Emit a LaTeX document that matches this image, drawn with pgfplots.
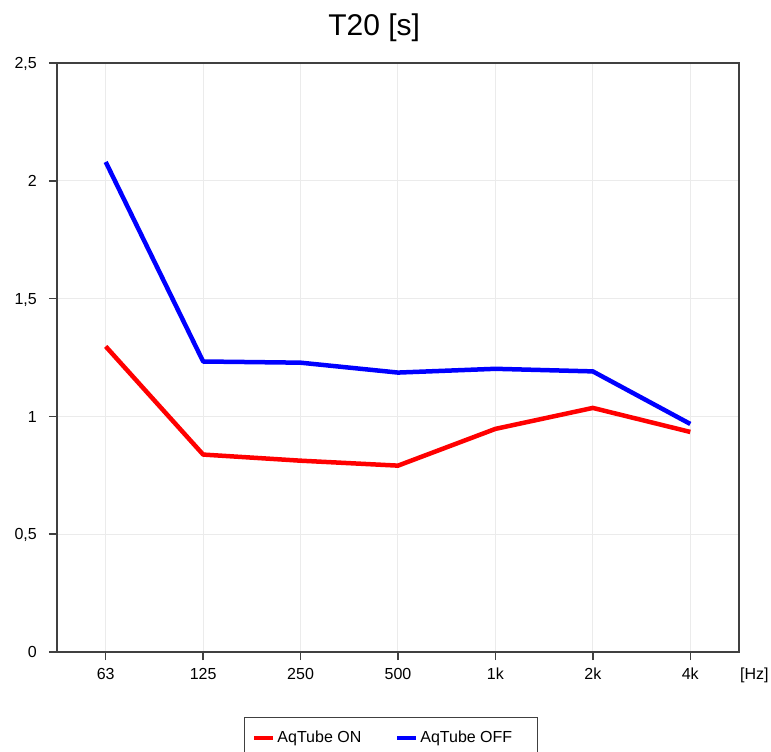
\documentclass[border=0pt]{standalone}
\usepackage{fontspec}
\setmainfont{Liberation Sans}
\usepackage{pgfplots}
\pgfplotsset{compat=1.18}
\definecolor{axgray}{HTML}{404040}
\definecolor{gridgray}{HTML}{EBEBEB}
\begin{document}
\begin{tikzpicture}
\path[use as bounding box] (-57pt,-100pt) rectangle (714pt,652pt);
\begin{axis}[
  at={(0pt,0pt)}, anchor=south west,
  scale only axis, width=682pt, height=589pt,
  xmin=-0.5, xmax=6.5, ymin=0, ymax=2.5,
  xtick={0,1,2,3,4,5,6}, xticklabels={63,125,250,500,1k,2k,4k},
  ytick={0,0.5,1,1.5,2,2.5}, yticklabels={0,{0,5},1,{1,5},2,{2,5}},
  xtick pos=lower, ytick pos=left,
  tick align=outside, major tick length=8pt,
  tick style={axgray, line width=1.5pt},
  axis line style={axgray, line width=1.8pt},
  grid=major, major grid style={gridgray, line width=1pt},
  ticklabel style={font=\fontsize{16}{19}\selectfont, text=black},
  xticklabel style={anchor=base, yshift=-19.5pt},
  yticklabel style={anchor=base east, yshift=-5.7pt, xshift=-8.7pt},
  legend style={at={(0.274,0)}, anchor=north west, yshift=-64.7pt,
    draw=axgray, line width=1.2pt, font=\fontsize{16}{19}\selectfont,
    /tikz/every even column/.append style={column sep=32pt},
    inner xsep=8pt, inner ysep=12pt},
  legend columns=2,
  legend cell align=left,
  legend image code/.code={\draw[line width=4pt] (0pt,0pt) -- (19pt,0pt);},
  clip=false,
]
\addplot[color=red, line width=4.5pt, line join=round] coordinates {
  (0,1.297) (1,0.838) (2,0.812) (3,0.791) (4,0.947) (5,1.036) (6,0.934)};
\addlegendentry{AqTube ON}
\addplot[color=blue, line width=4.5pt, line join=round] coordinates {
  (0,2.080) (1,1.233) (2,1.228) (3,1.186) (4,1.202) (5,1.191) (6,0.968)};
\addlegendentry{AqTube OFF\rule{15pt}{0pt}}
\node[anchor=base, inner sep=0pt, font=\fontsize{30}{36}\selectfont] at ([yshift=27.5pt]rel axis cs:0.465,1) {T20 [s]};
\node[anchor=base west, inner sep=0pt, font=\fontsize{16}{19}\selectfont] at ([xshift=1pt, yshift=-27.5pt]rel axis cs:1,0) {[Hz]};
\end{axis}
\end{tikzpicture}
\end{document}
